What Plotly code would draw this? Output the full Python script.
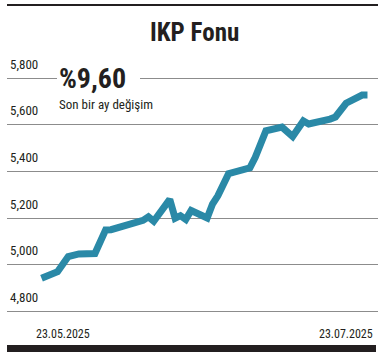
import plotly.graph_objects as go
import pandas as pd

# Data
dates = ["2025-05-23", "2025-05-26", "2025-05-28", "2025-05-30", "2025-06-02",
         "2025-06-04", "2025-06-05", "2025-06-11", "2025-06-12", "2025-06-13",
         "2025-06-16", "2025-06-17", "2025-06-18", "2025-06-19", "2025-06-20",
         "2025-06-23", "2025-06-24", "2025-06-25", "2025-06-27", "2025-06-30",
         "2025-07-01", "2025-07-02", "2025-07-04", "2025-07-07", "2025-07-09",
         "2025-07-11", "2025-07-12", "2025-07-16", "2025-07-17", "2025-07-19",
         "2025-07-22", "2025-07-23"]
values = [4942, 4970, 5035, 5046, 5048,
          5149, 5150, 5190, 5205, 5186,
          5280, 5199, 5210, 5194, 5232,
          5200, 5260, 5295, 5390, 5405,
          5415, 5460, 5574, 5590, 5549,
          5616, 5603, 5624, 5633, 5692,
          5727, 5727]
y_ticks = [4800, 5000, 5200, 5400, 5600, 5800]
title_text = "IKP Fonu"
change_text = "%9,60"
change_label = "Son bir ay değişim"

FONT = "Roboto Condensed, Roboto, sans-serif"
INK = "#231f20"
TEAL = "#2a89a7"

W, H = 388, 354
ML, MR, MT, MB = 7, 10, 54, 38
PW, PH = W - ML - MR, H - MT - MB


def px(xpix):
    return (xpix - ML) / PW


def py(ypix):
    return (H - MB - ypix) / PH


d = pd.to_datetime(dates)
x0 = (d[0] - pd.Timedelta(days=6.46)).strftime("%Y-%m-%d %H:%M")
x1 = (d[-1] + pd.Timedelta(days=1.97)).strftime("%Y-%m-%d %H:%M")

fig = go.Figure()
fig.add_trace(go.Scatter(
    x=list(d.strftime("%Y-%m-%d")), y=values, mode="lines",
    line=dict(color=TEAL, width=7, shape="linear"),
    hoverinfo="skip", showlegend=False,
))

fig.update_layout(
    template="none",
    width=W, height=H,
    margin=dict(l=ML, r=MR, t=MT, b=MB),
    paper_bgcolor="white", plot_bgcolor="white",
    separators=".,",
    showlegend=False,
    xaxis=dict(type="date", range=[x0, x1], showgrid=False, zeroline=False,
               showticklabels=False, showline=False, ticks=""),
    yaxis=dict(range=[4780, 5903], tickvals=y_ticks, tickformat=",d",
               showgrid=True, gridcolor="#8c8c8c", gridwidth=1.2,
               zeroline=False, showline=False, ticks="",
               ticklabelposition="inside", ticklabelshift=-14,
               tickfont=dict(family=FONT, size=13, color=INK)),
    font=dict(family=FONT, color=INK),
)

# top rule and bottom bar
fig.add_shape(type="line", xref="paper", yref="paper",
              x0=0, x1=1, y0=py(5), y1=py(5),
              line=dict(color=INK, width=2.2))
fig.add_shape(type="rect", xref="paper", yref="paper",
              x0=0, x1=px(376), y0=py(352), y1=py(345),
              fillcolor=INK, line=dict(width=0))
# white box interrupting the top gridline behind the callout
fig.add_shape(type="rect", xref="paper", yref="y",
              x0=px(57), x1=px(140), y0=5775, y1=5825,
              fillcolor="white", line=dict(width=0), layer="above")

fig.add_annotation(text=f"<b>{title_text}</b>", xref="paper", yref="paper",
                   x=px(195), y=py(33),
                   xanchor="center", yanchor="middle", showarrow=False,
                   font=dict(family=FONT, size=25, color=INK))
fig.add_annotation(text=f"<b>{change_text}</b>", xref="paper", yref="paper",
                   x=px(57), y=py(78),
                   xanchor="left", yanchor="middle", showarrow=False,
                   font=dict(family=FONT, size=28, color=INK))
fig.add_annotation(text=change_label, xref="paper", yref="paper",
                   x=px(57), y=py(104),
                   xanchor="left", yanchor="middle", showarrow=False,
                   font=dict(family=FONT, size=13, color=INK))

# date labels at the ends of the series
fig.add_annotation(text=d[0].strftime("%d.%m.%Y"), xref="x", yref="paper",
                   x=d[0].strftime("%Y-%m-%d"), y=py(334),
                   xanchor="left", yanchor="middle",
                   xshift=-8, showarrow=False, font=dict(family=FONT, size=12, color=INK))
fig.add_annotation(text=d[-1].strftime("%d.%m.%Y"), xref="x", yref="paper",
                   x=d[-1].strftime("%Y-%m-%d"), y=py(334),
                   xanchor="right", yanchor="middle",
                   xshift=8, showarrow=False, font=dict(family=FONT, size=12, color=INK))

fig.write_html("out.html")
